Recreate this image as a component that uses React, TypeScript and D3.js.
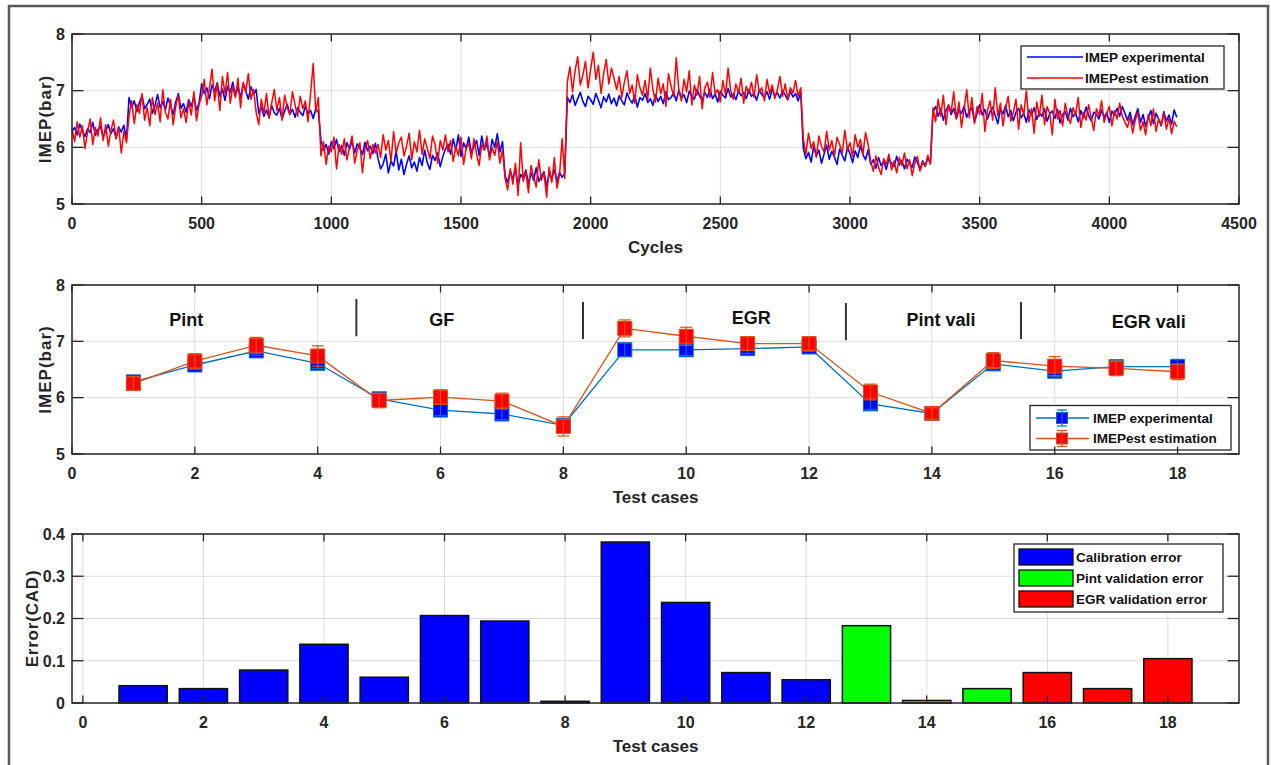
import React from "react";
import * as d3 from "d3";

const FONT = 'Arial, "Liberation Sans", Helvetica, sans-serif';
const INK = "#262626";
const GRID = "#dcdcdc";

// ---- Panel 1: IMEP per engine cycle (one sample every 10 cycles) ----
const cycleStep = 10;
const imepExperimental = [
  // 0-210
  6.28, 6.35, 6.22, 6.41, 6.30, 6.19, 6.33, 6.26, 6.44, 6.21, 6.31, 6.37, 6.18, 6.29, 6.40, 6.24, 6.33, 6.16, 6.36, 6.27, 6.39, 6.14,
  // 220-490
  6.88, 6.71, 6.82, 6.63, 6.79, 6.91, 6.68, 6.76, 6.85, 6.60, 6.74, 6.93, 6.70, 6.81, 6.66, 6.87, 6.73, 6.58, 6.80, 6.95, 6.69, 6.77, 6.62, 6.84, 6.72, 6.90, 6.65, 6.78,
  // 500-710
  7.12, 6.95, 7.05, 6.86, 7.10, 6.98, 7.14, 6.90, 7.03, 6.83, 7.08, 6.97, 7.15, 6.92, 7.06, 6.88, 7.11, 6.99, 6.85, 7.07, 6.94, 7.02,
  // 720-950
  6.60, 6.71, 6.55, 6.66, 6.52, 6.74, 6.61, 6.57, 6.69, 6.50, 6.64, 6.76, 6.58, 6.67, 6.53, 6.70, 6.62, 6.56, 6.73, 6.59, 6.65, 6.51, 6.68, 6.63,
  // 960-1170
  6.12, 5.95, 6.05, 5.88, 6.10, 5.98, 6.14, 5.92, 6.03, 5.86, 6.08, 5.97, 6.11, 5.90, 6.06, 5.99, 5.87, 6.09, 5.94, 6.02, 5.89, 6.07,
  // 1180-1440
  5.80, 5.62, 5.71, 5.88, 5.55, 5.76, 5.67, 5.93, 5.60, 5.79, 5.52, 5.70, 5.85, 5.64, 5.74, 5.58, 5.82, 5.68, 5.95, 5.73, 5.61, 5.86, 5.77, 5.90, 5.66, 5.84, 5.97,
  // 1450-1660
  6.05, 5.88, 6.15, 5.95, 6.22, 5.84, 6.08, 5.98, 6.18, 5.90, 6.02, 6.12, 5.86, 6.20, 5.96, 6.07, 5.83, 6.14, 6.00, 6.24, 5.92, 6.10,
  // 1670-1900
  5.50, 5.38, 5.58, 5.44, 5.62, 5.33, 5.52, 5.46, 5.60, 5.36, 5.55, 5.42, 5.64, 5.40, 5.49, 5.57, 5.31, 5.53, 5.45, 5.61, 5.39, 5.56, 5.47, 5.54,
  // 1910-2810
  6.88, 6.79, 6.93, 6.74, 6.86, 6.97, 6.81, 6.72, 6.90, 6.84,
  6.76, 6.95, 6.83, 6.70, 6.89, 6.80, 6.94, 6.77, 6.87, 6.73,
  6.91, 6.82, 6.75, 6.96, 6.85, 6.78, 6.92, 6.71, 6.88, 6.83,
  6.95, 6.79, 6.86, 6.74, 6.93, 6.81, 6.90, 6.77, 6.98, 6.84,
  6.88, 6.96, 6.82, 7.01, 6.87, 6.93, 6.79, 6.99, 6.90, 6.85,
  7.02, 6.91, 6.83, 6.97, 6.88, 7.03, 6.86, 6.94, 6.80, 6.99,
  6.92, 6.87, 7.04, 6.89, 6.95, 6.84, 7.00, 6.91, 6.97, 6.86,
  7.02, 6.90, 6.95, 6.83, 7.01, 6.93, 6.88, 6.98, 6.85, 7.03,
  6.91, 6.96, 6.87, 7.00, 6.92, 6.84, 6.99, 6.89, 6.95, 6.82,
  6.97,
  // 2820-3070
  5.98, 5.80, 5.91, 5.74, 6.02, 5.85, 5.95, 5.72, 5.88, 6.04, 5.79, 5.93, 5.83, 5.70, 5.97, 5.86, 5.76, 6.00, 5.89, 5.73, 5.94, 5.82, 6.03, 5.87, 5.78, 5.96,
  // 3080-3310
  5.70, 5.78, 5.63, 5.82, 5.68, 5.75, 5.61, 5.80, 5.72, 5.66, 5.84, 5.69, 5.77, 5.62, 5.79, 5.71, 5.65, 5.83, 5.74, 5.60, 5.76, 5.67, 5.81, 5.73,
  // 3320-4060
  6.62, 6.72, 6.55, 6.68, 6.48, 6.65, 6.74, 6.58, 6.69, 6.51,
  6.66, 6.60, 6.73, 6.53, 6.64, 6.70, 6.45, 6.61, 6.75, 6.57,
  6.67, 6.50, 6.63, 6.71, 6.56, 6.42, 6.68, 6.59, 6.74, 6.54,
  6.65, 6.47, 6.62, 6.69, 6.52, 6.60, 6.44, 6.66, 6.57, 6.70,
  6.49, 6.61, 6.55, 6.68, 6.46, 6.59, 6.64, 6.51, 6.67, 6.43,
  6.58, 6.63, 6.48, 6.69, 6.54, 6.60, 6.45, 6.65, 6.52, 6.71,
  6.56, 6.47, 6.62, 6.58, 6.50, 6.66, 6.53, 6.61, 6.44, 6.64,
  6.57, 6.69, 6.55, 6.72, 6.60,
  // 4070-4260
  6.48, 6.62, 6.40, 6.55, 6.68, 6.44, 6.58, 6.37, 6.52, 6.65, 6.42, 6.60, 6.50, 6.38, 6.63, 6.46, 6.57, 6.41, 6.66, 6.53,
];
const imepEstimation = [
  // 0-210
  6.32, 6.10, 6.45, 6.18, 6.38, 5.98, 6.27, 6.50, 6.05, 6.35, 6.20, 6.52, 6.12, 6.40, 6.02, 6.30, 6.48, 6.15, 6.36, 5.90, 6.28, 6.08,
  // 220-490
  6.55, 6.82, 6.42, 6.75, 6.60, 6.95, 6.48, 6.70, 6.38, 6.88, 6.58, 6.78, 6.45, 7.02, 6.62, 6.50, 6.85, 6.40, 6.72, 6.92, 6.52, 6.68, 6.44, 6.80, 6.57, 6.98, 6.47, 6.76,
  // 500-710
  6.90, 7.20, 6.75, 7.05, 7.38, 6.82, 7.12, 6.65, 7.25, 6.95, 7.32, 6.78, 7.08, 6.88, 7.22, 6.70, 7.15, 6.98, 7.30, 6.85, 7.02, 6.62,
  // 720-950
  6.40, 6.85, 6.60, 6.95, 6.52, 6.78, 7.02, 6.65, 6.88, 6.48, 6.92, 6.70, 6.58, 6.98, 6.75, 6.55, 6.90, 6.68, 6.82, 6.45, 6.95, 7.48, 6.62, 6.88,
  // 960-1170
  5.85, 6.10, 5.70, 6.02, 5.92, 6.18, 5.62, 6.05, 5.88, 6.15, 5.78, 6.00, 6.20, 5.72, 5.95, 6.08, 5.55, 5.98, 6.12, 5.80, 6.05, 5.90,
  // 1180-1440
  6.05, 5.82, 6.22, 5.95, 6.12, 5.75, 6.28, 5.90, 6.08, 6.18, 5.85, 6.02, 6.25, 5.78, 6.10, 5.92, 6.30, 5.88, 6.15, 5.98, 5.80, 6.20, 6.05, 5.72, 6.12, 5.95, 6.22,
  // 1450-1660
  5.92, 6.12, 5.75, 6.02, 5.85, 6.18, 5.70, 5.98, 6.08, 5.80, 6.15, 5.88, 5.68, 6.05, 5.95, 6.20, 5.78, 6.00, 5.86, 6.10, 5.72, 5.96,
  // 1670-1900
  5.45, 5.25, 5.62, 5.35, 5.72, 5.15, 6.08, 5.40, 5.58, 5.20, 5.68, 5.48, 5.30, 5.78, 5.42, 5.55, 5.12, 5.65, 5.38, 5.82, 5.28, 5.52, 6.15, 5.45,
  // 1910-2810
  7.15, 7.42, 6.98, 7.35, 7.60, 7.10, 7.28, 7.52, 7.05, 7.38,
  7.68, 7.20, 7.45, 6.95, 7.30, 7.55, 7.12, 7.40, 7.22, 7.02,
  7.25, 6.88, 7.15, 7.35, 6.95, 7.10, 6.78, 7.28, 7.05, 6.92,
  7.18, 6.85, 7.40, 7.02, 6.80, 7.22, 6.95, 7.12, 6.72, 7.30,
  7.08, 6.90, 7.58, 7.00, 6.82, 7.20, 6.98, 7.35, 6.75, 7.10,
  6.92, 7.25, 6.68, 7.05, 7.15, 6.88, 7.32, 6.95, 7.02, 6.80,
  7.18, 6.92, 7.40, 7.00, 6.85, 7.12, 6.96, 7.22, 6.78, 7.08,
  6.94, 7.15, 6.88, 7.28, 6.98, 7.05, 6.82, 7.20, 6.95, 7.10,
  6.86, 7.02, 7.25, 6.90, 7.12, 6.84, 7.05, 6.96, 7.18, 6.90,
  7.05,
  // 2820-3070
  6.15, 5.88, 6.25, 5.98, 6.10, 5.82, 6.20, 6.02, 5.92, 6.28, 5.95, 6.12, 5.85, 6.18, 6.05, 5.90, 6.30, 5.96, 6.08, 5.84, 6.22, 6.00, 6.14, 5.88, 6.26, 6.05,
  // 3080-3310
  5.75, 5.58, 5.85, 5.65, 5.52, 5.80, 5.70, 5.88, 5.60, 5.76, 5.55, 5.82, 5.68, 5.90, 5.62, 5.78, 5.50, 5.72, 5.84, 5.58, 5.74, 5.66, 5.86, 5.70,
  // 3320-4060
  6.70, 6.45, 6.85, 6.55, 6.92, 6.40, 6.75, 6.62, 6.98, 6.50,
  6.80, 6.35, 6.68, 7.02, 6.52, 6.88, 6.42, 6.72, 6.58, 6.95,
  6.28, 6.65, 6.82, 6.48, 7.05, 6.55, 6.78, 6.38, 6.70, 6.90,
  6.46, 6.62, 6.85, 6.32, 6.75, 6.58, 7.00, 6.45, 6.68, 6.25,
  6.80, 6.55, 6.92, 6.40, 6.72, 6.60, 6.22, 6.85, 6.50, 6.65,
  6.38, 6.78, 6.55, 6.42, 6.70, 6.58, 6.88, 6.35, 6.62, 6.48,
  6.75, 6.52, 6.30, 6.68, 6.56, 6.82, 6.44, 6.60, 6.72, 6.38,
  6.65, 6.50, 6.78, 6.55, 6.45,
  // 4070-4260
  6.35, 6.55, 6.25, 6.48, 6.62, 6.30, 6.45, 6.22, 6.58, 6.38, 6.68, 6.28, 6.50, 6.40, 6.60, 6.32, 6.52, 6.24, 6.46, 6.36,
];
const cycleTicks = [0, 500, 1000, 1500, 2000, 2500, 3000, 3500, 4000, 4500];
const imepTicks = [5, 6, 7, 8];

// ---- Panel 2: mean IMEP per test case with spread ----
const testCases = [1, 2, 3, 4, 5, 6, 7, 8, 9, 10, 11, 12, 13, 14, 15, 16, 17, 18];
const meanExperimental = [6.28, 6.58, 6.83, 6.61, 5.98, 5.78, 5.71, 5.51, 6.85, 6.85, 6.87, 6.90, 5.89, 5.72, 6.60, 6.47, 6.55, 6.55];
const meanEstimation = [6.25, 6.65, 6.93, 6.74, 5.95, 6.01, 5.94, 5.49, 7.23, 7.09, 6.96, 6.96, 6.10, 5.72, 6.66, 6.56, 6.52, 6.46];
const spreadExperimental = [0.1, 0.08, 0.08, 0.09, 0.1, 0.1, 0.1, 0.1, 0.12, 0.1, 0.09, 0.08, 0.1, 0.08, 0.09, 0.1, 0.11, 0.13];
const spreadEstimation = [0.12, 0.13, 0.14, 0.18, 0.13, 0.13, 0.14, 0.17, 0.15, 0.16, 0.12, 0.12, 0.14, 0.1, 0.14, 0.17, 0.13, 0.14];
const caseTicks = [0, 2, 4, 6, 8, 10, 12, 14, 16, 18];

// Operating-point groups written across the top of panel 2 (data units)
const phaseNames = ["Pint", "GF", "EGR", "Pint vali", "EGR vali"];
const phaseLabelX = [1.86, 6.02, 11.06, 14.15, 17.53];
const phaseLabelY = [7.38, 7.38, 7.42, 7.38, 7.34];
const phaseDividerX = [4.63, 8.32, 12.6, 15.45];
const phaseDividerTop = [7.75, 7.7, 7.68, 7.7];
const phaseDividerBottom = [7.09, 7.04, 7.02, 7.04];

// ---- Panel 3: combustion-phase error per test case ----
const errorCAD = [0.041, 0.034, 0.078, 0.139, 0.061, 0.207, 0.194, 0.004, 0.381, 0.238, 0.072, 0.055, 0.183, 0.006, 0.034, 0.072, 0.034, 0.105];
const errorGroup = ["cal", "cal", "cal", "cal", "cal", "cal", "cal", "cal", "cal", "cal", "cal", "cal", "pint", "pint", "pint", "egr", "egr", "egr"];
const errorGroupNames = ["Calibration error", "Pint validation error", "EGR validation error"];
const errorGroupKeys = ["cal", "pint", "egr"];
const errorGroupColors = ["#0000ff", "#00ff00", "#ff0000"];
const errorTicks = [0, 0.1, 0.2, 0.3, 0.4];

const W = 1271;
const H = 765;
const L = 72;
const R = 1239;

type Box = { top: number; bottom: number };
const P1: Box = { top: 34, bottom: 204 };
const P2: Box = { top: 285, bottom: 454 };
const P3: Box = { top: 534, bottom: 703 };

const BLUE_LINE = "#0072bd";
const RED_LINE = "#d95319";

function Frame({
  x,
  y,
  xTicks,
  yTicks,
  yFmt,
  xLabel,
  yLabel,
  yLabelX,
  yLabelSpacing,
  children,
}: {
  x: d3.ScaleLinear<number, number>;
  y: d3.ScaleLinear<number, number>;
  xTicks: number[];
  yTicks: number[];
  yFmt: (v: number) => string;
  xLabel: string;
  yLabel: string;
  yLabelX: number;
  yLabelSpacing: number;
  children?: React.ReactNode;
}) {
  const [x0, x1] = x.range();
  const [y0, y1] = y.range();
  const top = Math.min(y0, y1);
  const bottom = Math.max(y0, y1);
  const xTickLen = 7.5;
  const yTickLen = 11.5;
  return (
    <g>
      <rect x={x0} y={top} width={x1 - x0} height={bottom - top} fill="#fff" />
      {xTicks.map((t) => (
        <line key={"gx" + t} x1={x(t)} x2={x(t)} y1={top} y2={bottom} stroke={GRID} strokeWidth={1} />
      ))}
      {yTicks.map((t) => (
        <line key={"gy" + t} x1={x0} x2={x1} y1={y(t)} y2={y(t)} stroke={GRID} strokeWidth={1} />
      ))}
      {children}
      {xTicks.map((t) => (
        <g key={"tx" + t}>
          <line x1={x(t)} x2={x(t)} y1={bottom} y2={bottom - xTickLen} stroke={INK} strokeWidth={1.3} />
          <line x1={x(t)} x2={x(t)} y1={top} y2={top + xTickLen} stroke={INK} strokeWidth={1.3} />
          <text x={x(t)} y={bottom + 25} textAnchor="middle" fontSize={16} fontWeight="bold" fill={INK}>
            {t}
          </text>
        </g>
      ))}
      {yTicks.map((t) => (
        <g key={"ty" + t}>
          <line x1={x0} x2={x0 + yTickLen} y1={y(t)} y2={y(t)} stroke={INK} strokeWidth={1.3} />
          <line x1={x1} x2={x1 - yTickLen} y1={y(t)} y2={y(t)} stroke={INK} strokeWidth={1.3} />
          <text x={x0 - 7} y={y(t)} dy="0.36em" textAnchor="end" fontSize={16} fontWeight="bold" fill={INK}>
            {yFmt(t)}
          </text>
        </g>
      ))}
      <rect x={x0} y={top} width={x1 - x0} height={bottom - top} fill="none" stroke={INK} strokeWidth={1.5} />
      <text x={(x0 + x1) / 2} y={bottom + 49} textAnchor="middle" fontSize={17} fontWeight="bold" fill={INK}>
        {xLabel}
      </text>
      <text
        transform={`translate(${yLabelX},${(top + bottom) / 2}) rotate(-90)`}
        textAnchor="middle"
        dy="0.35em"
        fontSize={17}
        fontWeight="bold"
        letterSpacing={yLabelSpacing}
        fill={INK}
      >
        {yLabel}
      </text>
    </g>
  );
}

function ErrorMarker({
  cx,
  cy,
  up,
  down,
  line,
  fill,
  size,
  cap,
}: {
  cx: number;
  cy: number;
  up: number;
  down: number;
  line: string;
  fill: string;
  size: number;
  cap: number;
}) {
  return (
    <g>
      <rect x={cx - size / 2} y={cy - size / 2} width={size} height={size} fill={fill} stroke={line} strokeWidth={1} />
      <line x1={cx} x2={cx} y1={up} y2={down} stroke={line} strokeWidth={1.2} />
      <line x1={cx - cap} x2={cx + cap} y1={up} y2={up} stroke={line} strokeWidth={1.2} />
      <line x1={cx - cap} x2={cx + cap} y1={down} y2={down} stroke={line} strokeWidth={1.2} />
    </g>
  );
}

export default function App() {
  // Panel 1 scales and lines
  const x1 = d3.scaleLinear().domain([0, 4500]).range([L, R]);
  const y1 = d3.scaleLinear().domain([5, 8]).range([P1.bottom, P1.top]);
  const cycleLine = d3
    .line<number>()
    .x((_, i) => x1(i * cycleStep))
    .y((v) => y1(v));

  // Panel 2 scales and lines
  const x2 = d3.scaleLinear().domain([0, 19]).range([L, R]);
  const y2 = d3.scaleLinear().domain([5, 8]).range([P2.bottom, P2.top]);
  const caseLine = d3
    .line<number>()
    .x((_, i) => x2(testCases[i]))
    .y((v) => y2(v));

  // Panel 3 scales
  const x3 = d3.scaleLinear().domain([-0.18, 19.18]).range([L, R]);
  const y3 = d3.scaleLinear().domain([0, 0.4]).range([P3.bottom, P3.top]);
  const barW = x3(0.8) - x3(0);

  const series2 = [
    { mean: meanExperimental, spread: spreadExperimental, line: BLUE_LINE, fill: "#0000ff" },
    { mean: meanEstimation, spread: spreadEstimation, line: RED_LINE, fill: "#ff0000" },
  ];

  return (
    <svg
      width={W}
      height={H}
      viewBox={`0 0 ${W} ${H}`}
      style={{ position: "absolute", left: 0, top: 0, display: "block", background: "#fff" }}
      fontFamily={FONT}
    >
      <rect x={0} y={0} width={W} height={H} fill="#fff" />
      <rect x={9} y={6} width={1259} height={820} fill="none" stroke="#5a5a5a" strokeWidth={2.5} />

      {/* Panel 1: cycle-resolved IMEP */}
      <Frame
        x={x1}
        y={y1}
        xTicks={cycleTicks}
        yTicks={imepTicks}
        yFmt={(v) => String(v)}
        xLabel="Cycles"
        yLabel="IMEP(bar)"
        yLabelX={45}
        yLabelSpacing={1}
      >
        <path d={cycleLine(imepExperimental) || ""} fill="none" stroke="#0000ff" strokeWidth={1.6} strokeLinejoin="round" />
        <path d={cycleLine(imepEstimation) || ""} fill="none" stroke="#ff0000" strokeWidth={1.5} strokeLinejoin="round" />
        <g>
          <rect x={1021} y={46} width={203} height={43} fill="#fff" stroke={INK} strokeWidth={1.3} />
          <line x1={1027} x2={1083} y1={57} y2={57} stroke="#0000ff" strokeWidth={1.3} />
          <line x1={1027} x2={1083} y1={78} y2={78} stroke="#ff0000" strokeWidth={1.3} />
          <text x={1085} y={57} dy="0.35em" fontSize={13.5} fontWeight="bold" fill="#111">
            IMEP experimental
          </text>
          <text x={1085} y={78} dy="0.35em" fontSize={13.5} fontWeight="bold" fill="#111">
            IMEPest estimation
          </text>
        </g>
      </Frame>

      {/* Panel 2: mean IMEP per test case */}
      <Frame
        x={x2}
        y={y2}
        xTicks={caseTicks}
        yTicks={imepTicks}
        yFmt={(v) => String(v)}
        xLabel="Test cases"
        yLabel="IMEP(bar)"
        yLabelX={45}
        yLabelSpacing={1}
      >
        {phaseNames.map((name, i) => (
          <text
            key={name}
            x={x2(phaseLabelX[i])}
            y={y2(phaseLabelY[i])}
            dy="0.35em"
            textAnchor="middle"
            fontSize={18}
            fontWeight="bold"
            fill="#111"
          >
            {name}
          </text>
        ))}
        {phaseDividerX.map((d, i) => (
          <line
            key={"div" + i}
            x1={x2(d)}
            x2={x2(d)}
            y1={y2(phaseDividerTop[i])}
            y2={y2(phaseDividerBottom[i])}
            stroke="#333"
            strokeWidth={2}
          />
        ))}
        {series2.map((s, k) => (
          <g key={"s" + k}>
            <path d={caseLine(s.mean) || ""} fill="none" stroke={s.line} strokeWidth={1.3} />
            {s.mean.map((m, i) => (
              <ErrorMarker
                key={i}
                cx={x2(testCases[i])}
                cy={y2(m)}
                up={y2(m + s.spread[i])}
                down={y2(m - s.spread[i])}
                line={s.line}
                fill={s.fill}
                size={14}
                cap={6}
              />
            ))}
          </g>
        ))}
        <g>
          <rect x={1030} y={405.5} width={201} height={44.5} fill="#fff" stroke={INK} strokeWidth={1.3} />
          {series2.map((s, k) => {
            const cy = 418 + k * 20.5;
            return (
              <g key={"lg" + k}>
                <line x1={1036} x2={1089} y1={cy} y2={cy} stroke={s.line} strokeWidth={1.3} />
                <ErrorMarker cx={1062} cy={cy} up={cy - 8} down={cy + 8} line={s.line} fill={s.fill} size={11} cap={5} />
                <text x={1093} y={cy} dy="0.35em" fontSize={13.5} fontWeight="bold" fill="#111">
                  {k === 0 ? "IMEP experimental" : "IMEPest estimation"}
                </text>
              </g>
            );
          })}
        </g>
      </Frame>

      {/* Panel 3: error bars per test case */}
      <Frame
        x={x3}
        y={y3}
        xTicks={caseTicks}
        yTicks={errorTicks}
        yFmt={(v) => (v === 0 ? "0" : d3.format(".1f")(v))}
        xLabel="Test cases"
        yLabel="Error(CAD)"
        yLabelX={32}
        yLabelSpacing={0.8}
      >
        {errorCAD.map((v, i) => (
          <rect
            key={"b" + i}
            x={x3(testCases[i]) - barW / 2}
            y={y3(v)}
            width={barW}
            height={y3(0) - y3(v)}
            fill={errorGroupColors[errorGroupKeys.indexOf(errorGroup[i])]}
            stroke="#111"
            strokeWidth={1.5}
          />
        ))}
        <g>
          <rect x={1014} y={544} width={209} height={68} fill="#fff" stroke={INK} strokeWidth={1.3} />
          {errorGroupNames.map((name, k) => {
            const cy = 557 + k * 21;
            return (
              <g key={name}>
                <rect x={1019} y={cy - 8} width={54} height={16} fill={errorGroupColors[k]} stroke="#111" strokeWidth={1.3} />
                <text x={1076} y={cy} dy="0.35em" fontSize={13.5} fontWeight="bold" fill="#111">
                  {name}
                </text>
              </g>
            );
          })}
        </g>
      </Frame>
    </svg>
  );
}
